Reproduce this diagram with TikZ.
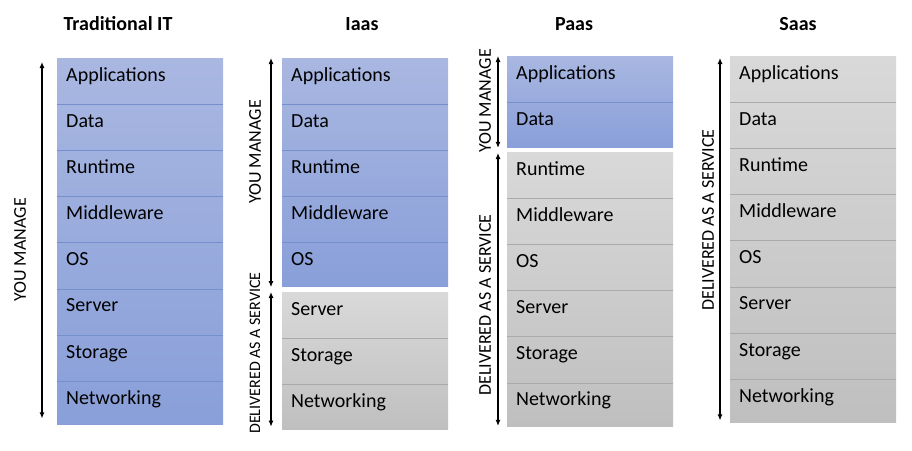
\documentclass[tikz,border=0pt]{standalone}
\usepackage{fontspec}
\setmainfont{Carlito}
\usepackage{tikz}
\usetikzlibrary{positioning,arrows.meta}

\definecolor{youtop}{RGB}{169,183,225}
\definecolor{youbot}{RGB}{137,159,217}
\definecolor{youline}{RGB}{118,143,205}
\definecolor{svctop}{RGB}{217,217,217}
\definecolor{svcbot}{RGB}{191,191,191}
\definecolor{svcline}{RGB}{170,170,170}

\tikzset{
  title/.style={font=\bfseries\fontsize{20}{24}\selectfont, anchor=base, inner sep=0pt},
  layer/.style={minimum width=166pt, minimum height=45.75pt, text width=148pt, align=left,
    inner xsep=9pt, inner ysep=0pt, text height=23pt, text depth=22.75pt,
    font=\fontsize{20}{24}\selectfont},
  youbg/.style={anchor=north west, minimum width=166pt, inner sep=0pt, top color=youtop, bottom color=youbot},
  svcbg/.style={anchor=north west, minimum width=166pt, inner sep=0pt, top color=svctop, bottom color=svcbot},
  side/.style={rotate=90, font=\fontsize{18}{22}\selectfont, inner sep=0pt},
  span/.style={{Latex[length=6pt,width=5pt]}-{Latex[length=6pt,width=5pt]}, line width=1.1pt},
}

\begin{document}
\begin{tikzpicture}[x=1pt, y=-1pt]
    \useasboundingbox (0,0) rectangle (912,450);

    % Titles
    \node[title] (ttitle) at (118,30) {Traditional IT};
    \node[title] (ititle) at (362,30) {Iaas};
    \node[title] (ptitle) at (574,30) {Paas};
    \node[title] (stitle) at (798,30) {Saas};

    % Blocks
    \node[youbg, minimum height=366pt] (tyou) at (57,58) {};
    \node[youbg, minimum height=228.75pt] (iyou) at (282,58) {};
    \node[svcbg, minimum height=137.25pt] (isvc) at (282,292) {};
    \node[youbg, minimum height=91.5pt] (pyou) at (507,56) {};
    \node[svcbg, minimum height=274.5pt] (psvc) at (507,152) {};
    \node[svcbg, minimum height=366pt] (ssvc) at (730,56) {};

    % Traditional IT
    \node[layer, anchor=north west] (t1) at (tyou.north west) {Applications};
    \node[layer, below=0pt of t1] (t2) {Data};
    \node[layer, below=0pt of t2] (t3) {Runtime};
    \node[layer, below=0pt of t3] (t4) {Middleware};
    \node[layer, below=0pt of t4] (t5) {OS};
    \node[layer, below=0pt of t5] (t6) {Server};
    \node[layer, below=0pt of t6] (t7) {Storage};
    \node[layer, below=0pt of t7] (t8) {Networking};

    % Iaas
    \node[layer, anchor=north west] (i1) at (iyou.north west) {Applications};
    \node[layer, below=0pt of i1] (i2) {Data};
    \node[layer, below=0pt of i2] (i3) {Runtime};
    \node[layer, below=0pt of i3] (i4) {Middleware};
    \node[layer, below=0pt of i4] (i5) {OS};
    \node[layer, anchor=north west] (i6) at (isvc.north west) {Server};
    \node[layer, below=0pt of i6] (i7) {Storage};
    \node[layer, below=0pt of i7] (i8) {Networking};

    % Paas
    \node[layer, anchor=north west] (p1) at (pyou.north west) {Applications};
    \node[layer, below=0pt of p1] (p2) {Data};
    \node[layer, anchor=north west] (p3) at (psvc.north west) {Runtime};
    \node[layer, below=0pt of p3] (p4) {Middleware};
    \node[layer, below=0pt of p4] (p5) {OS};
    \node[layer, below=0pt of p5] (p6) {Server};
    \node[layer, below=0pt of p6] (p7) {Storage};
    \node[layer, below=0pt of p7] (p8) {Networking};

    % Saas
    \node[layer, anchor=north west] (s1) at (ssvc.north west) {Applications};
    \node[layer, below=0pt of s1] (s2) {Data};
    \node[layer, below=0pt of s2] (s3) {Runtime};
    \node[layer, below=0pt of s3] (s4) {Middleware};
    \node[layer, below=0pt of s4] (s5) {OS};
    \node[layer, below=0pt of s5] (s6) {Server};
    \node[layer, below=0pt of s6] (s7) {Storage};
    \node[layer, below=0pt of s7] (s8) {Networking};

    % Row lines
    \foreach \i in {1,...,7}
        \draw[youline] (t\i.south west) -- (t\i.south east);
    \foreach \i in {1,...,4}
        \draw[youline] (i\i.south west) -- (i\i.south east);
    \foreach \i in {6,7}
        \draw[svcline] (i\i.south west) -- (i\i.south east);
    \draw[youline] (p1.south west) -- (p1.south east);
    \foreach \i in {3,...,7}
        \draw[svcline] (p\i.south west) -- (p\i.south east);
    \foreach \i in {1,...,7}
        \draw[svcline] (s\i.south west) -- (s\i.south east);

    % Side labels
    \node[side] (tman) at (20,250) {YOU MANAGE};
    \node[side] (iman) at (255,152) {YOU MANAGE};
    \node[side, font=\fontsize{16}{20}\selectfont] (idel) at (255,353) {DELIVERED AS A SERVICE};
    \node[side] (pman) at (485,101) {YOU MANAGE};
    \node[side] (pdel) at (485,305) {DELIVERED AS A SERVICE};
    \node[side] (sdel) at (708,220) {DELIVERED AS A SERVICE};

    % Draw arrows
    \draw[span] ([xshift=-15pt,yshift=-4pt]tyou.north west) -- ([xshift=-15pt,yshift=6pt]tyou.south west);
    \draw[span] ([xshift=-11pt]iyou.north west) -- ([xshift=-11pt]iyou.south west);
    \draw[span] ([xshift=-11pt]isvc.north west) -- ([xshift=-11pt,yshift=3pt]isvc.south west);
    \draw[span] ([xshift=-9pt]pyou.north west) -- ([xshift=-9pt]pyou.south west);
    \draw[span] ([xshift=-9pt,yshift=-1pt]psvc.north west) -- ([xshift=-9pt,yshift=1pt]psvc.south west);
    \draw[span] ([xshift=-10pt,yshift=-2pt]ssvc.north west) -- ([xshift=-10pt,yshift=2pt]ssvc.south west);
\end{tikzpicture}
\end{document}
